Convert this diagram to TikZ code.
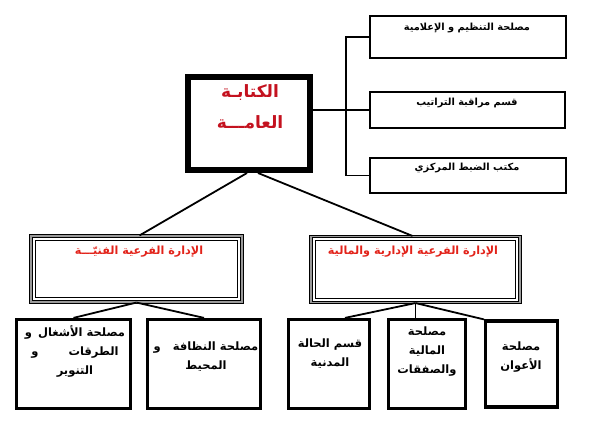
\documentclass[tikz,border=0pt]{standalone}
\usepackage{fontspec}
\newfontfamily\arabicfont[Script=Arabic]{DejaVu Sans}
\TeXXeTstate=1
\definecolor{headred}{HTML}{C4121F}
\definecolor{branchred}{HTML}{E2231A}
\definecolor{frameshade}{HTML}{9A9A9A}
\newcommand{\artext}[1]{\beginR #1\endR}

\begin{document}
\begin{tikzpicture}[x=1pt,y=-1pt,line join=miter,
    headbox/.style={draw,line width=6pt,inner sep=0pt,minimum width=122pt,minimum height=93pt},
    sidebox/.style={draw,line width=1.8pt,inner sep=0pt,minimum width=196pt},
    branchbox/.style={draw,line width=1.1pt,double=frameshade,double distance=1.5pt,
      inner sep=0pt,minimum width=211pt,minimum height=66pt},
    unitbox/.style={draw,line width=3.2pt,inner sep=0pt,minimum height=89pt},
    link/.style={line width=1.8pt},
    headtxt/.style={text=headred,font=\arabicfont\bfseries\fontsize{17}{17}\selectfont},
    sidetxt/.style={font=\arabicfont\bfseries\fontsize{9.8}{10}\selectfont},
    branchtxt/.style={text=branchred,font=\arabicfont\bfseries\fontsize{11.2}{12}\selectfont},
    unittxt/.style={align=center,font=\arabicfont\bfseries\fontsize{11.5}{19}\selectfont}]

  \useasboundingbox (0,0) rectangle (590,422);

  % general secretariat and the offices attached to it
  \node[headbox] (head) at (249,123.5) {};
  \node[headtxt] (headA) at (250,93) {\artext{الكتابـة}};
  \node[headtxt] (headB) at (250,122) {\artext{العامـــة}};

  \node[sidebox,minimum height=42pt] (org) at (468,37) {};
  \node[sidebox,minimum height=36pt,minimum width=195pt] (rules) at (467.5,110) {};
  \node[sidebox,minimum height=35pt] (mail) at (468,175.5) {};
  \node[sidetxt] (orgT) at (467,28) {\artext{مصلحة التنظيم و الإعلامية}};
  \node[sidetxt] (rulesT) at (467,103) {\artext{قسم مراقبة التراتيب}};
  \node[sidetxt] (mailT) at (467,168) {\artext{مكتب الضبط المركزي}};

  \coordinate (spine) at (346,0);
  \draw[link] (head.east |- rules.west) -- (rules.west);
  \draw[link] (org.west) -- (org.west -| spine) -- (mail.west -| spine) -- (mail.west);

  % the two branch directorates
  \node[branchbox] (tech) at (136.5,269) {};
  \node[branchbox,minimum width=209pt] (admin) at (415.5,269.5) {};
  \foreach \b in {tech,admin}
    \draw[line width=0.9pt] ([xshift=5pt,yshift=-5pt]\b.north west)
      rectangle ([xshift=-5pt,yshift=5pt]\b.south east);
  \node[branchtxt] (techT) at (139,252) {\artext{الإدارة الفرعية الفنيّـــة}};
  \node[branchtxt] (adminT) at (413,252) {\artext{الإدارة الفرعية الإدارية والمالية}};

  \draw[link] ([xshift=-2pt]head.south) -- ([xshift=3pt]tech.north);
  \draw[link] ([xshift=9pt]head.south) -- ([xshift=-3pt]admin.north);

  % services
  \node[unitbox,minimum width=114pt] (works) at (73.5,364) {};
  \node[unitbox,minimum width=113pt] (clean) at (204,364) {};
  \node[unitbox,minimum width=81pt] (civil) at (329,364) {};
  \node[unitbox,minimum width=77pt] (finance) at (427,364) {};
  \node[unitbox,minimum width=72pt,minimum height=86pt] (staff) at (521.5,364) {};

  \node[unittxt] (worksT) at (75,351)
    {\artext{مصلحة الأشغال\hspace{6pt}و}\\\artext{الطرقات\hspace{30pt}و}\\\artext{التنوير}};
  \node[unittxt] (cleanT) at (206,357)
    {\artext{مصلحة النظافة\hspace{12pt}و}\\\artext{المحيط}};
  \node[unittxt] (civilT) at (330,354) {\artext{قسم الحالة}\\\artext{المدنية}};
  \node[unittxt] (financeT) at (427,352)
    {\artext{مصلحة}\\\artext{المالية}\\\artext{والصفقات}};
  \node[unittxt] (staffT) at (521,357) {\artext{مصلحة}\\\artext{الأعوان}};

  \draw[link] (tech.south) -- (works.north);
  \draw[link] (tech.south) -- (clean.north);
  \draw[link] (admin.south) -- ([xshift=16pt]civil.north);
  \draw[link] (admin.south) -- (admin.south |- finance.north);
  \draw[link] (admin.south) -- (staff.north west);

\end{tikzpicture}
\end{document}
